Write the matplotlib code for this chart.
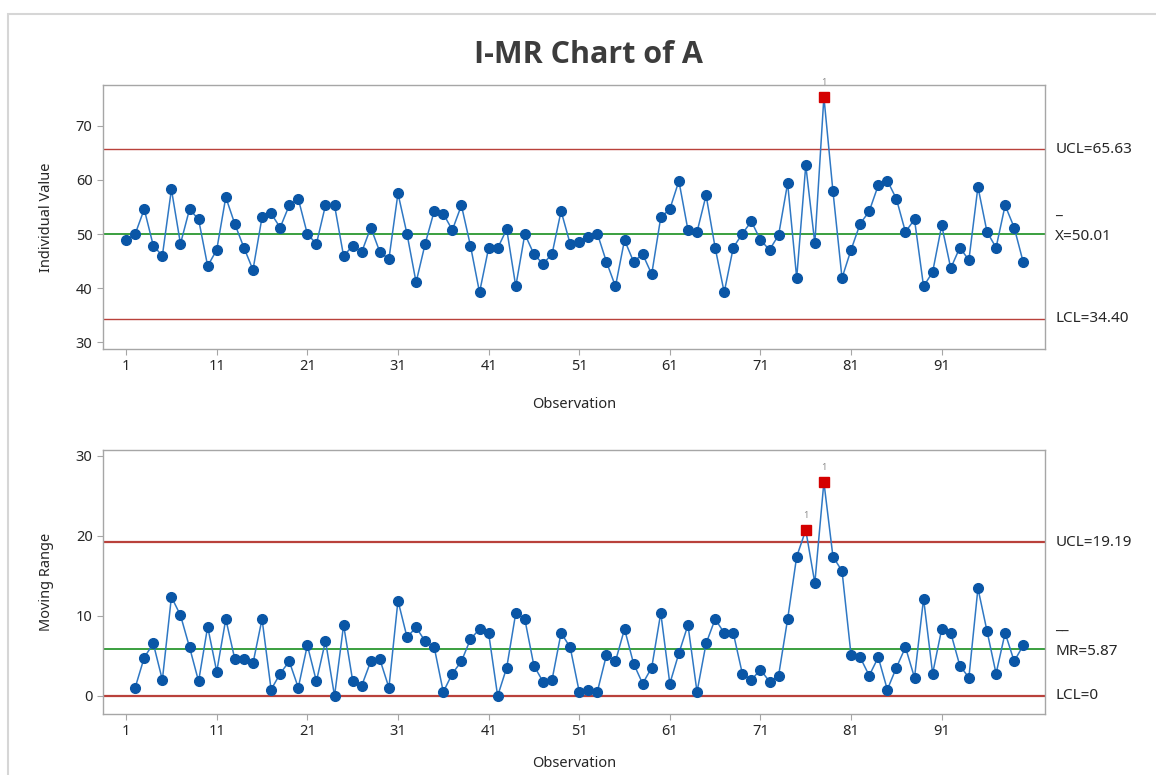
import numpy as np
import matplotlib
matplotlib.use("Agg")
import matplotlib.pyplot as plt
from matplotlib.patches import Rectangle

plt.rcParams['font.family'] = ['Noto Sans', 'DejaVu Sans']

# Individual measurements of A (observations 1..100)
values = [
    48.9, 50.0, 54.6, 47.85, 46.0, 58.25, 48.2, 54.6, 52.7, 44.1,
    47.1, 56.8, 51.85, 47.5, 43.4, 53.1, 53.8, 51.2, 55.3, 56.5,
    50.0, 48.2, 55.3, 55.3, 45.95, 47.85, 46.7, 51.2, 46.7, 45.4,
    57.5, 50.0, 41.1, 48.2, 54.25, 53.75, 50.75, 55.3, 47.85, 39.25,
    47.4, 47.4, 50.9, 40.35, 50.0, 46.3, 44.5, 46.3, 54.25, 48.2,
    48.5, 49.4, 50.1, 44.9, 40.35, 48.9, 44.9, 46.3, 42.6, 53.1,
    54.6, 59.8, 50.75, 50.4, 57.15, 47.5, 39.25, 47.5, 50.07, 52.35,
    48.9, 47.1, 49.8, 59.4, 41.9, 62.7, 48.3, 75.3, 57.9, 41.9,
    47.1, 51.9, 54.2, 59.0, 59.85, 56.5, 50.4, 52.7, 40.35, 43.0,
    51.6, 43.7, 47.5, 45.2, 58.7, 50.4, 47.5, 55.3, 51.2, 44.8,
]

# Moving ranges (observations 2..100)
moving_range = [
    1.04, 4.8, 6.55, 2.0, 12.36, 10.07, 6.08, 1.83, 8.65, 3.03,
    9.6, 4.58, 4.58, 4.08, 9.6, 0.79, 2.79, 4.33, 1.04, 6.33,
    1.83, 6.87, 0.0, 8.86, 1.91, 1.29, 4.33, 4.58, 1.04, 11.9,
    7.33, 8.57, 6.83, 6.08, 0.5, 2.79, 4.33, 7.08, 8.36, 7.87,
    0.0, 3.54, 10.36, 9.57, 3.79, 1.79, 2.0, 7.87, 6.08, 0.54,
    0.79, 0.54, 5.08, 4.33, 8.36, 4.04, 1.54, 3.54, 10.36, 1.54,
    5.33, 8.86, 0.5, 6.55, 9.6, 7.87, 7.87, 2.79, 2.0, 3.29,
    1.79, 2.54, 9.6, 17.4, 20.7, 14.1, 26.7, 17.4, 15.6, 5.08,
    4.83, 2.54, 4.83, 0.79, 3.54, 6.08, 2.29, 12.15, 2.79, 8.36,
    7.87, 3.79, 2.29, 13.44, 8.11, 2.79, 7.87, 4.33, 6.33,
]

i_limits = {'UCL': 65.63, 'center': 50.01, 'LCL': 34.40}
mr_limits = {'UCL': 19.19, 'center': 5.87, 'LCL': 0.0}
xticks = [1, 11, 21, 31, 41, 51, 61, 71, 81, 91]

BLUE = '#0a56a6'
LINE_BLUE = '#2f78c4'
RED = '#d40000'
LIMIT_RED = '#b9413b'
GREEN = '#3a9f3f'
SPINE = '#a6a6a6'
TEXT = '#262626'

fig = plt.figure(figsize=(11.56, 7.75), dpi=100)

# window border
fig.patches.append(Rectangle((8 / 1156, -0.1), 1.2, 1 - 14 / 775 + 0.1,
                             transform=fig.transFigure, fill=False,
                             edgecolor='#d6d6d6', linewidth=1.5))

ax1 = fig.add_axes([103 / 1156, 1 - 349 / 775, 942 / 1156, 264 / 775])
ax2 = fig.add_axes([103 / 1156, 1 - 714 / 775, 942 / 1156, 264 / 775])

fig.text(588 / 1156, 1 - 55 / 775, 'I-MR Chart of A', ha='center', va='center',
         fontsize=22, fontweight='bold', color='#3c3c3c',
         family=['Open Sans', 'DejaVu Sans'])


def draw_panel(ax, x, y, limits, ucl_txt, center_txt, bar_txt, lcl_txt,
               ylim, yticks, ylabel, lw_limit, xpad):
    x = np.asarray(x)
    y = np.asarray(y)
    ax.axhline(limits['UCL'], color=LIMIT_RED, lw=lw_limit, zorder=1)
    ax.axhline(limits['LCL'], color=LIMIT_RED, lw=lw_limit, zorder=1)
    ax.axhline(limits['center'], color=GREEN, lw=1.4, zorder=1)
    ax.plot(x, y, color=LINE_BLUE, lw=1.1, zorder=2)
    out = y > limits['UCL']
    ax.plot(x[~out], y[~out], 'o', color=BLUE, ms=7, mec=BLUE, zorder=3)
    ax.plot(x[out], y[out], 's', color=RED, ms=6.5, mec=RED, zorder=4)
    for xi, yi in zip(x[out], y[out]):
        ax.annotate('1', (xi, yi), xytext=(0, 7), textcoords='offset points',
                    ha='center', va='bottom', fontsize=6.5, color='#8c8c8c')

    ax.set_xlim(-1.55, 102.4)
    ax.set_ylim(*ylim)
    ax.set_xticks(xticks)
    ax.set_yticks(yticks)
    ax.tick_params(colors=SPINE, labelcolor=TEXT, labelsize=10.5,
                   length=4, width=0.8, direction='out')
    for s in ax.spines.values():
        s.set_color(SPINE)
        s.set_linewidth(1.0)
    ax.set_xlabel('Observation', fontsize=10.5, color=TEXT, labelpad=xpad)
    ax.set_ylabel(ylabel, fontsize=10.5, color=TEXT, labelpad=16)

    # control limit labels on the right
    tr = ax.get_yaxis_transform()
    lx = 1.011
    ax.text(lx, limits['UCL'], ucl_txt, transform=tr, va='center', ha='left',
            fontsize=11, color=TEXT)
    ax.text(lx, limits['LCL'], lcl_txt, transform=tr, va='center', ha='left',
            fontsize=11, color=TEXT)
    ax.annotate(center_txt, (lx, limits['center']), xycoords=tr,
                xytext=(0, -2), textcoords='offset points',
                va='center', ha='left', fontsize=11, color=TEXT)
    ax.annotate(bar_txt, (lx, limits['center']), xycoords=tr,
                xytext=(0, 16), textcoords='offset points',
                va='center', ha='left', fontsize=11, color=TEXT)


obs = np.arange(1, len(values) + 1)
draw_panel(ax1, obs, values, i_limits, 'UCL=65.63', 'X=50.01', '_', 'LCL=34.40',
           (28.8, 77.5), [30, 40, 50, 60, 70], 'Individual Value', 1.0, 16)
draw_panel(ax2, obs[1:], moving_range, mr_limits, 'UCL=19.19', 'MR=5.87', '__', 'LCL=0',
           (-2.25, 30.7), [0, 10, 20, 30], 'Moving Range', 1.6, 12)

fig.savefig('out.png', dpi=100)
